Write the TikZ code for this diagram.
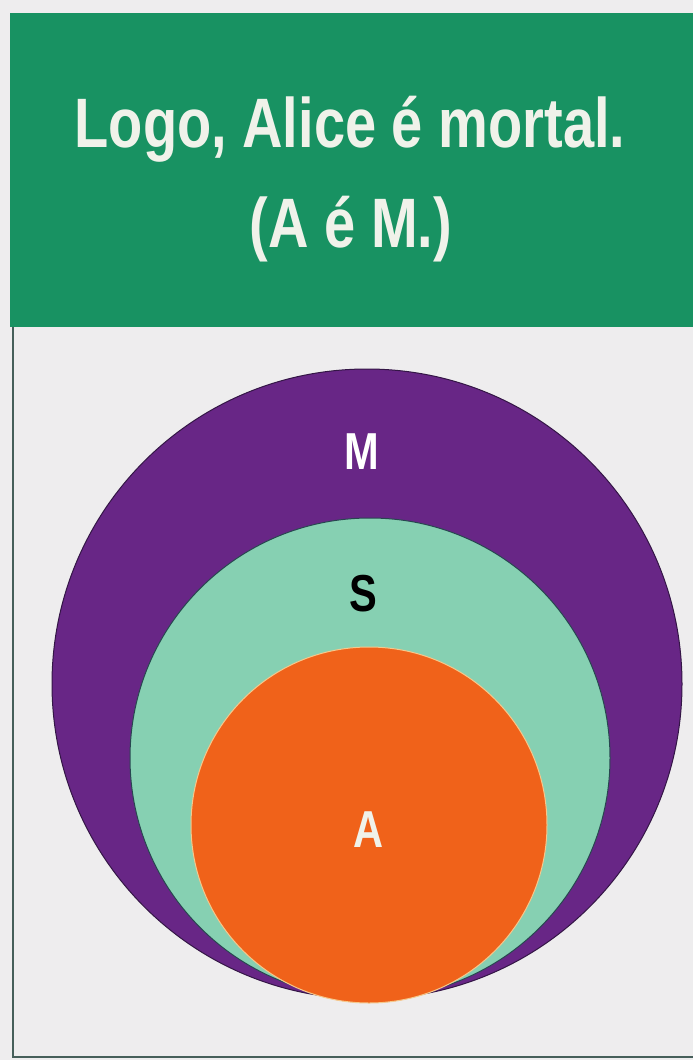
\documentclass[tikz,border=0pt]{standalone}
\usepackage{fontspec}
\setmainfont[FakeStretch=0.8]{Liberation Sans}
\definecolor{papel}{RGB}{238,237,238}
\definecolor{verdeCab}{RGB}{24,146,98}
\definecolor{textoCab}{RGB}{240,242,234}
\definecolor{roxo}{RGB}{104,38,134}
\definecolor{roxoEsc}{RGB}{52,22,70}
\definecolor{verdeAgua}{RGB}{134,208,178}
\definecolor{bordaAgua}{RGB}{40,70,80}
\definecolor{laranja}{RGB}{240,98,26}
\definecolor{bordaLaranja}{RGB}{245,200,140}
\definecolor{moldura}{RGB}{70,95,90}
\begin{document}
\begin{tikzpicture}[
    x=1pt, y=-1pt,
    cabecalho/.style={fill=verdeCab},
    titulo/.style={anchor=base, inner sep=0pt, text=textoCab,
      font=\fontsize{70}{70}\selectfont\bfseries},
    conjunto/.style={circle, inner sep=0pt, line width=1pt},
    rotulo/.style={inner sep=0pt, font=\fontsize{52}{52}\selectfont\bfseries},
    borda/.style={moldura, line width=1.2pt}
  ]
  % a figura mede 693 x 1060 px; coordenadas em px, y para baixo
  \fill[papel] (0,0) rectangle (693,1060);
  \useasboundingbox (0,0) rectangle (693,1060);

  % --- faixa do titulo ---
  \fill[cabecalho] (10,13) rectangle (693,327);
  \node[titulo] (linha1) at (350,147) {Logo, Alice é mortal.};
  \node[titulo] (linha2) at (351,247) {(A é M.)};

  % --- moldura fina, esquerda e base ---
  \draw[borda] (13,327) -- (13,1057) -- (693,1057);

  % --- conjuntos: M contem S, que contem A ---
  \node[conjunto, fill=roxo, draw=roxoEsc, minimum size=630pt] (M) at (367,684) {};
  \node[conjunto, fill=verdeAgua, draw=bordaAgua, minimum size=480pt] (S) at (370,758) {};
  \node[conjunto, fill=laranja, draw=bordaLaranja, minimum size=356pt] (A) at (369,825) {};

  % --- rotulos ---
  \node[rotulo, text=white] (rotM) at (362,452) {M};
  \node[rotulo, text=black] (rotS) at (363,594) {S};
  \node[rotulo, text=textoCab] (rotA) at (369,830) {A};
\end{tikzpicture}
\end{document}
